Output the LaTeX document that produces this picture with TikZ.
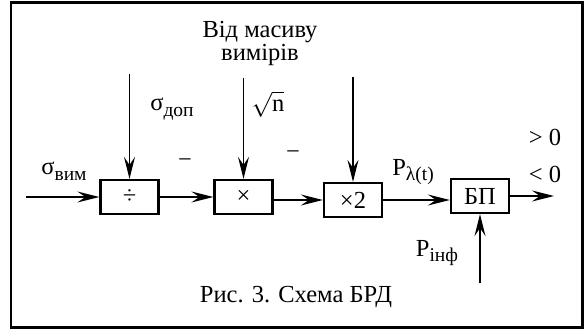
\documentclass[tikz,border=0pt]{standalone}
\usepackage{fontspec}
\setmainfont{Liberation Serif}
\usetikzlibrary{arrows.meta}
\newcommand{\nyz}[1]{\raisebox{-0.5ex}{\fontsize{19.5}{19.5}\selectfont #1}}
\tikzset{
  blok/.style={draw, line width=2.2pt, minimum width=58pt, minimum height=34pt, inner sep=0pt},
  >={Stealth[length=22pt,width=11pt,inset=8pt]}
}
\begin{document}
\begin{tikzpicture}[x=1pt,y=-1pt,line width=1.9pt,font=\fontsize{24.5}{23}\selectfont]
		\useasboundingbox (0,0) rectangle (584,329);
		\draw[line width=2.2pt] (11,2.5) rectangle (582.5,327.5);
		
		\node[blok] (D) at (129.5,197) {÷};
		\node[blok] (M) at (243.5,197) {×};
		\node[blok] (X) at (353,200) {×2};
		\node[blok] (B) at (480,196) {БП};
		
		\coordinate (Din) at (26,197);
		\coordinate (Dtop) at (129.5,74);
		\coordinate (Mtop) at (243.5,78);
		\coordinate (Xtop) at (353,77);
		\coordinate (Bbot) at (480,283);
		\coordinate (Bout) at (554,196);
		
		\path [->] (Din) edge (D);
		\path [->] (Dtop) edge (D);
		\path [->] (Mtop) edge (M);
		\path [->] (Xtop) edge (X);
		\path [->] (Bbot) edge (B);
		\path [->] (D) edge (M);
		\path [->] (M.east |- X) edge (X);
		\path [->] (X) edge (X -| B.west);
		\path [->] (B) edge (Bout);
		
		\node (Lvim) at (64,171) {σ\nyz{вим}};
		\node (Ldop) at (172,109) {σ\nyz{доп}};
		\node (Lsqrt) at (268,104) {$\sqrt{\hbox{n}}$};
		\node (Lmin1) at (185,163) {−};
		\node (Lmin2) at (293,155) {−};
		\node[align=center] (Lmas) at (260,43) {Від масиву\\вимірів};
		\node (Lpl) at (413,172) {P\nyz{λ(t)}};
		\node (Lgt) at (545,137) {> 0};
		\node (Llt) at (545,174) {< 0};
		\node (Linf) at (437,253) {P\nyz{інф}};
		\node (Lcap) at (296,297) {Рис. 3. Схема БРД};
\end{tikzpicture}
\end{document}
